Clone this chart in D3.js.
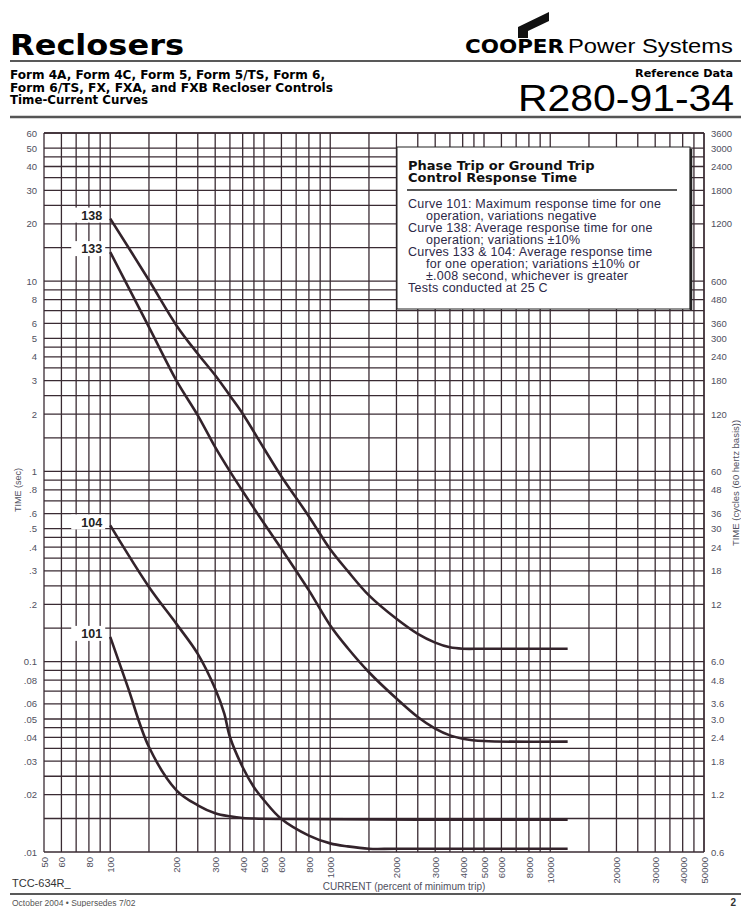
<!DOCTYPE html>
<html>
<head>
<meta charset="utf-8">
<script src="https://cdnjs.cloudflare.com/ajax/libs/d3/7.8.5/d3.min.js"></script>
<style>
  body { margin: 0; background: #fff; }
  text { font-family: "Liberation Sans", Arial, sans-serif; }
</style>
</head>
<body>
<div id="chart"></div>
<script>
// tick values and labels
var leftTicks = [60, 50, 40, 30, 20, 10, 8, 6, 5, 4, 3, 2, 1, .8, .6, .5, .4, .3, .2, .1, .08, .06, .05, .04, .03, .02, .01];
var leftLabels = ['60', '50', '40', '30', '20', '10', '8', '6', '5', '4', '3', '2', '1', '.8', '.6', '.5', '.4', '.3', '.2', '0.1', '.08', '.06', '.05', '.04', '.03', '.02', '.01'];
var rightLabels = ['3600', '3000', '2400', '1800', '1200', '600', '480', '360', '300', '240', '180', '120', '60', '48', '36', '30', '24', '18', '12', '6.0', '4.8', '3.6', '3.0', '2.4', '1.8', '1.2', '0.6'];
var bottomTicks = [50, 60, 80, 100, 200, 300, 400, 500, 600, 800, 1000, 2000, 3000, 4000, 5000, 6000, 8000, 10000, 20000, 30000, 40000, 50000];
var bottomLabels = ['50', '60', '80', '100', '200', '300', '400', '500', '600', '800', '1000', '2000', '3000', '4000', '5000', '6000', '8000', '10000', '20000', '30000', '40000', '50000'];

// grid divisions inside each decade
var gridSteps = [1, 1.5, 2, 2.5, 3, 3.5, 4, 4.5, 5, 6, 7, 8, 9];

// curves: [percent of minimum trip, seconds]
var curve138 = [[100, 21.3], [150, 10.1], [200, 5.85], [250, 4.15], [300, 3.2], [350, 2.5], [400, 2.01], [500, 1.32], [600, 0.94], [800, 0.58], [1000, 0.39], [1200, 0.30], [1500, 0.223], [2000, 0.168], [2500, 0.14], [3000, 0.126], [3500, 0.119], [4000, 0.117], [5000, 0.117], [12000, 0.117]];
var curve133 = [[100, 14.2], [150, 5.73], [200, 3.0], [250, 1.97], [300, 1.34], [350, 1.0], [400, 0.787], [500, 0.534], [600, 0.392], [800, 0.237], [1000, 0.155], [1200, 0.118], [1500, 0.088], [2000, 0.064], [2500, 0.0512], [3000, 0.0445], [3500, 0.041], [4000, 0.0394], [5000, 0.0383], [12000, 0.038]];
var curve104 = [[100, 0.52], [150, 0.247], [200, 0.158], [250, 0.11], [300, 0.0721], [330, 0.0533], [350, 0.0402], [400, 0.0279], [450, 0.0219], [500, 0.0187], [600, 0.0149], [800, 0.0122], [1000, 0.0111], [1200, 0.0107], [1500, 0.0104], [2000, 0.0104], [12000, 0.0104]];
var curve101 = [[100, 0.135], [120, 0.074], [150, 0.0356], [200, 0.0211], [250, 0.0176], [300, 0.016], [350, 0.0154], [400, 0.0151], [600, 0.0149], [12000, 0.0148]];
var curveNames = ['138', '133', '104', '101'];
var curves = [curve138, curve133, curve104, curve101];

var legendTitle = ['Phase Trip or Ground Trip', 'Control Response Time'];
var legendLines = [
  ['Curve 101: Maximum response time for one', 0],
  ['operation, variations negative', 1],
  ['Curve 138: Average response time for one', 0],
  ['operation; variations \u00b110%', 1],
  ['Curves 133 & 104: Average response time', 0],
  ['for one operation; variations \u00b110% or', 1],
  ['\u00b1.008 second, whichever is greater', 1],
  ['Tests conducted at 25 C', 0]
];

var ink = '#3a2b33';
var labelInk = '#50505e';

var svg = d3.select('#chart').append('svg')
  .attr('width', 741)
  .attr('height', 907);

// ---------- header ----------
svg.append('text').attr('x', 10).attr('y', 55)
  .attr('textLength', 174).attr('lengthAdjust', 'spacingAndGlyphs')
  .style('font-family', '"DejaVu Sans", sans-serif').style('font-weight', 'bold')
  .style('font-size', '29px').text('Reclosers');

svg.append('path')
  .attr('d', 'M518,38 L518,27 L549,12 L549,21 L528,31 L528,38 Z')
  .attr('fill', '#111');
svg.append('text').attr('x', 465).attr('y', 53)
  .attr('textLength', 99).attr('lengthAdjust', 'spacingAndGlyphs')
  .style('font-family', '"DejaVu Sans Condensed", "DejaVu Sans", sans-serif').style('font-weight', 'bold')
  .style('font-size', '19px').text('COOPER');
svg.append('text').attr('x', 568).attr('y', 53)
  .attr('textLength', 165).attr('lengthAdjust', 'spacingAndGlyphs')
  .style('font-size', '20px').text('Power Systems');

svg.append('line').attr('x1', 10).attr('x2', 741).attr('y1', 61).attr('y2', 61)
  .attr('stroke', '#222').attr('stroke-width', 1.5);

var sub = ['Form 4A, Form 4C, Form 5, Form 5/TS, Form 6,', 'Form 6/TS, FX, FXA, and FXB Recloser Controls', 'Time-Current Curves'];
var subW = [315, 323, 138];
svg.selectAll('.sub').data(sub).enter().append('text')
  .attr('class', 'sub')
  .attr('x', 10)
  .attr('y', function(d, i) { return 79 + i * 12.5; })
  .attr('textLength', function(d, i) { return subW[i]; })
  .attr('lengthAdjust', 'spacingAndGlyphs')
  .style('font-family', '"DejaVu Sans", sans-serif').style('font-weight', 'bold')
  .style('font-size', '13px')
  .text(function(d) { return d; });

svg.append('text').attr('x', 733).attr('y', 77).attr('text-anchor', 'end')
  .attr('textLength', 98).attr('lengthAdjust', 'spacingAndGlyphs')
  .style('font-family', '"DejaVu Sans", sans-serif').style('font-weight', 'bold')
  .style('font-size', '10px').text('Reference Data');
svg.append('text').attr('x', 518).attr('y', 111)
  .attr('textLength', 216).attr('lengthAdjust', 'spacingAndGlyphs')
  .style('font-size', '37px').text('R280-91-34');

svg.append('line').attr('x1', 10).attr('x2', 741).attr('y1', 117).attr('y2', 117)
  .attr('stroke', '#555').attr('stroke-width', 2.5);

// ---------- scales ----------
var x = d3.scaleLog().domain([50, 50000]).range([44, 704]);
var y = d3.scaleLog().domain([0.01, 60]).range([852, 133]);

var xGrid = [50, 60, 70, 80, 90];
[100, 1000, 10000].forEach(function(dec) {
  gridSteps.forEach(function(s) { if (dec * s <= 50000) xGrid.push(dec * s); });
});
xGrid.push(50000);
var yGrid = [];
[0.01, 0.1, 1, 10].forEach(function(dec) {
  gridSteps.forEach(function(s) { if (dec * s <= 60) yGrid.push(dec * s); });
});
yGrid.push(60);

var grid = svg.append('g');
grid.selectAll('.vg').data(xGrid).enter().append('line')
  .attr('x1', function(d) { return x(d); }).attr('x2', function(d) { return x(d); })
  .attr('y1', y(60)).attr('y2', y(0.01))
  .attr('stroke', ink).attr('stroke-width', 1.3);
grid.selectAll('.hg').data(yGrid).enter().append('line')
  .attr('y1', function(d) { return y(d); }).attr('y2', function(d) { return y(d); })
  .attr('x1', x(50)).attr('x2', x(50000))
  .attr('stroke', ink).attr('stroke-width', 1.3);

// ---------- axes ----------
var yLeft = svg.append('g').attr('transform', 'translate(' + x(50) + ',0)')
  .call(d3.axisLeft(y).tickValues(leftTicks)
    .tickFormat(function(d, i) { return leftLabels[i]; })
    .tickSize(0).tickPadding(7));
var yRight = svg.append('g').attr('transform', 'translate(' + x(50000) + ',0)')
  .call(d3.axisRight(y).tickValues(leftTicks)
    .tickFormat(function(d, i) { return rightLabels[i]; })
    .tickSize(0).tickPadding(7));
var xBottom = svg.append('g').attr('transform', 'translate(0,' + y(0.01) + ')')
  .call(d3.axisBottom(x).tickValues(bottomTicks)
    .tickFormat(function(d, i) { return bottomLabels[i]; })
    .tickSize(0));
xBottom.selectAll('text')
  .attr('transform', 'rotate(-90)')
  .attr('x', -5).attr('y', 0).attr('dy', '0.35em')
  .style('text-anchor', 'end');

[yLeft, yRight, xBottom].forEach(function(g) {
  g.select('.domain').remove();
  g.selectAll('text')
    .style('font-family', '"Liberation Sans", Arial, sans-serif')
    .style('font-size', '9.5px')
    .attr('fill', labelInk);
});

svg.append('text')
  .attr('transform', 'translate(21,490) rotate(-90)')
  .attr('text-anchor', 'middle')
  .style('font-size', '9px').attr('fill', labelInk)
  .text('TIME (sec)');
svg.append('text')
  .attr('transform', 'translate(739,483) rotate(-90)')
  .attr('text-anchor', 'middle')
  .style('font-size', '9.5px').attr('fill', labelInk)
  .text('TIME (cycles (60 hertz basis))');

// ---------- legend box ----------
var lg = svg.append('g').attr('transform', 'translate(397,147)');
lg.append('rect').attr('width', 293).attr('height', 162)
  .attr('fill', '#fff').attr('stroke', '#222').attr('stroke-width', 1);
lg.append('line').attr('x1', 294).attr('x2', 294).attr('y1', 2).attr('y2', 163)
  .attr('stroke', '#222').attr('stroke-width', 2.5);
lg.selectAll('.lt').data(legendTitle).enter().append('text')
  .attr('x', 11).attr('y', function(d, i) { return 23 + i * 12; })
  .style('font-family', '"DejaVu Sans", sans-serif').style('font-weight', 'bold')
  .style('font-size', '13px').attr('fill', '#111')
  .text(function(d) { return d; });
lg.append('line').attr('x1', 10).attr('x2', 280).attr('y1', 43).attr('y2', 43)
  .attr('stroke', '#222').attr('stroke-width', 1.5);
lg.selectAll('.ll').data(legendLines).enter().append('text')
  .attr('x', function(d) { return d[1] ? 29 : 11; })
  .attr('y', function(d, i) { return 61 + i * 12; })
  .style('font-size', '12.5px').style('letter-spacing', '0.25px').attr('fill', '#2c2848')
  .text(function(d) { return d[0]; });

// ---------- curves ----------
var line = d3.line()
  .x(function(d) { return x(d[0]); })
  .y(function(d) { return y(d[1]); })
  .curve(d3.curveCatmullRom.alpha(0.5));

svg.append('g').selectAll('path').data(curves).enter().append('path')
  .attr('d', line)
  .attr('fill', 'none')
  .attr('stroke', '#33232b')
  .attr('stroke-width', 2.6);

var tags = svg.append('g').selectAll('g').data(curves).enter().append('g')
  .attr('transform', function(d) { return 'translate(' + (x(d[0][0]) - 5) + ',' + (y(d[0][1]) - 3) + ')'; });
tags.append('rect').attr('x', -34).attr('y', -8).attr('width', 34).attr('height', 15).attr('fill', '#fff');
tags.append('text').attr('x', -3).attr('dy', '0.35em').attr('text-anchor', 'end')
  .style('font-weight', 'bold').style('font-size', '12.5px').attr('fill', '#222')
  .text(function(d, i) { return curveNames[i]; });

// ---------- footer ----------
svg.append('text').attr('x', 12).attr('y', 887).style('font-size', '11px').attr('fill', '#333').text('TCC-634R_');
svg.append('text').attr('x', 404).attr('y', 890).attr('text-anchor', 'middle')
  .style('font-size', '10px').attr('fill', labelInk).text('CURRENT (percent of minimum trip)');
svg.append('line').attr('x1', 10).attr('x2', 741).attr('y1', 894).attr('y2', 894)
  .attr('stroke', '#222').attr('stroke-width', 1.3);
svg.append('text').attr('x', 12).attr('y', 906).style('font-size', '8.5px').attr('fill', '#555')
  .text('October 2004 \u2022 Supersedes 7/02');
svg.append('text').attr('x', 736).attr('y', 906).attr('text-anchor', 'end')
  .style('font-size', '10px').style('font-weight', 'bold').attr('fill', '#333').text('2');
</script>
</body>
</html>
